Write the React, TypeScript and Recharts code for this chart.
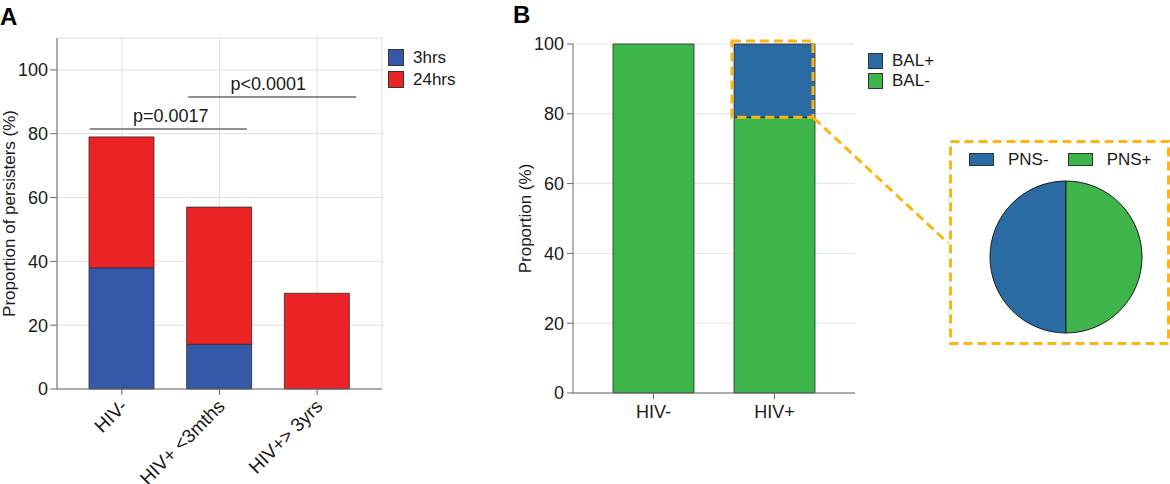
import {
  BarChart,
  Bar,
  XAxis,
  YAxis,
  CartesianGrid,
  ReferenceLine,
  Rectangle,
  PieChart,
  Pie,
  Cell,
} from 'recharts';

// panel A: persisters by HIV status
const groupsA = ['HIV-', 'HIV+ <3mths', 'HIV+> 3yrs'];
const persist3h = [38, 14, 0];
const persist24h = [41, 43, 30];
const ticksA = [0, 20, 40, 60, 80, 100];
const seriesA = [
  { key: 'h3', name: '3hrs', color: '#3559A8' },
  { key: 'h24', name: '24hrs', color: '#EC2325' },
];
// significance brackets: between two groups, ends stretched by a share of the group spacing
const brackets = [
  { from: 'HIV-', to: 'HIV+ <3mths', extLeft: 0.33, extRight: 0.28, y: 81.5, label: 'p=0.0017' },
  { from: 'HIV+ <3mths', to: 'HIV+> 3yrs', extLeft: 0.32, extRight: 0.4, y: 91.5, label: 'p<0.0001' },
];

// panel B: BAL result by HIV status
const groupsB = ['HIV-', 'HIV+'];
const balNeg = [100, 79];
const balPos = [0, 21];
const ticksB = [0, 20, 40, 60, 80, 100];
const zoomGroup = 'HIV+';
const seriesB = [
  { key: 'pos', name: 'BAL+', color: '#2A6BA4' },
  { key: 'neg', name: 'BAL-', color: '#3DB54B' },
];

// inset pie: PNS among BAL+
const pnsLabels = ['PNS-', 'PNS+'];
const pnsValues = [50, 50];
const pnsColors = ['#2A6BA4', '#3DB54B'];

const dataA = groupsA.map((name, i) => ({ name, h3: persist3h[i], h24: persist24h[i] }));
const dataB = groupsB.map((name, i) => ({ name, neg: balNeg[i], pos: balPos[i] }));
const dataPie = pnsLabels.map((name, i) => ({ name, value: pnsValues[i] }));

const AXIS = '#6b6b6b';
const INK = '#1a1a1a';
const ORANGE = '#FCB514';
const FONT = "'Liberation Sans', Arial, sans-serif";

const AngledTick = (props: any) => {
  const { x, y, payload } = props;
  return (
    <g transform={`translate(${x - 3},${y + 1})`}>
      <text x={0} y={0} dy="0.71em" textAnchor="end" transform="rotate(-45)" fontSize={19} fill={INK}>
        {payload.value}
      </text>
    </g>
  );
};

const bracketShape = (extLeft: number, extRight: number) => (p: any) => {
  const span = p.x2 - p.x1;
  return (
    <line
      x1={p.x1 - extLeft * span}
      x2={p.x2 + extRight * span}
      y1={p.y1}
      y2={p.y2}
      stroke={AXIS}
      strokeWidth={1.5}
    />
  );
};

const ZoomedBar = (props: any) => {
  const { x, y, width, height, payload } = props;
  const zoomed = payload && payload.name === zoomGroup && height > 0;
  return (
    <g>
      <Rectangle {...props} />
      {zoomed && (
        <g fill="none" stroke={ORANGE} strokeWidth={3} strokeDasharray="9 5">
          <rect x={x - 2} y={y - 3} width={width} height={height + 3} />
          <line x1={x + width - 1} y1={y + height + 1} x2={448} y2={243} />
        </g>
      )}
    </g>
  );
};

const LegendBox = ({ items, left, top, pitch, w, h }: any) => (
  <div style={{ position: 'absolute', left, top }}>
    {items.map((s: any, i: number) => (
      <div
        key={s.name}
        style={{ position: 'absolute', top: i * pitch, left: 0, display: 'flex', alignItems: 'center', height: h, whiteSpace: 'nowrap' }}
      >
        <div style={{ width: w, height: h, background: s.color, border: '1px solid #333', boxSizing: 'border-box' }} />
        <span style={{ marginLeft: 9, fontSize: 17, lineHeight: `${h}px`, color: INK }}>{s.name}</span>
      </div>
    ))}
  </div>
);

const PanelLetter = ({ text, left, top }: any) => (
  <div style={{ position: 'absolute', left, top, fontSize: 24, fontWeight: 'bold', lineHeight: 1, color: '#000' }}>{text}</div>
);

const App = () => {
  return (
    <div style={{ position: 'absolute', left: 0, top: 0, width: 1170, height: 484, background: '#fff', fontFamily: FONT, overflow: 'hidden' }}>
      <PanelLetter text="A" left={0} top={5} />
      <div style={{ position: 'absolute', left: 0, top: 0 }}>
        <BarChart width={480} height={484} data={dataA} margin={{ top: 38, right: 98, bottom: 0, left: 0 }} barSize={65}>
          <CartesianGrid stroke="#dedede" />
          <XAxis
            dataKey="name"
            height={95}
            padding={{ left: 16, right: 16 }}
            interval={0}
            tick={<AngledTick />}
            tickSize={6}
            tickMargin={2}
            axisLine={{ stroke: AXIS }}
            tickLine={{ stroke: AXIS }}
          />
          <XAxis xAxisId="top" orientation="top" dataKey="name" height={0} tick={false} tickLine={false} axisLine={{ stroke: AXIS }} />
          <YAxis
            width={57}
            domain={[0, 110]}
            ticks={ticksA}
            interval={0}
            tickSize={7}
            tickMargin={2}
            tick={{ fontSize: 18, fill: INK }}
            axisLine={{ stroke: AXIS }}
            tickLine={{ stroke: AXIS }}
            label={{ value: 'Proportion of persisters (%)', angle: -90, position: 'insideLeft', offset: 9, fontSize: 17, fill: INK, style: { textAnchor: 'middle' } }}
          />
          <YAxis yAxisId="right" orientation="right" width={0} domain={[0, 110]} tick={false} tickLine={false} axisLine={{ stroke: AXIS }} />
          {seriesA.map((s) => (
            <Bar key={s.key} dataKey={s.key} name={s.name} stackId="a" fill={s.color} stroke="#2b2b2b" strokeWidth={0.8} isAnimationActive={false} />
          ))}
          {brackets.map((b) => (
            <ReferenceLine
              key={b.label}
              segment={[{ x: b.from, y: b.y }, { x: b.to, y: b.y }]}
              ifOverflow="visible"
              stroke={AXIS}
              shape={bracketShape(b.extLeft, b.extRight)}
              label={{ value: b.label, position: 'top', offset: 7, fill: INK, fontSize: 18 }}
            />
          ))}
        </BarChart>
      </div>
      <LegendBox items={seriesA} left={388} top={49} pitch={22} w={16} h={17} />

      <PanelLetter text="B" left={513} top={3} />
      <div style={{ position: 'absolute', left: 500, top: 0 }}>
        <BarChart width={670} height={484} data={dataB} margin={{ top: 44, right: 315, bottom: 0, left: 0 }} barSize={81}>
          <CartesianGrid stroke="#e3e3e3" vertical={false} />
          <XAxis
            dataKey="name"
            height={91}
            padding={{ left: 20, right: 20 }}
            tickSize={6}
            tickMargin={6}
            tick={{ fontSize: 18, fill: INK }}
            axisLine={{ stroke: AXIS }}
            tickLine={{ stroke: AXIS }}
          />
          <XAxis xAxisId="top" orientation="top" dataKey="name" height={0} tick={false} tickLine={false} axisLine={{ stroke: AXIS }} />
          <YAxis
            width={73}
            domain={[0, 100]}
            ticks={ticksB}
            interval={0}
            tickSize={6}
            tickMargin={3}
            tick={{ fontSize: 18, fill: INK }}
            axisLine={{ stroke: AXIS }}
            tickLine={{ stroke: AXIS }}
            label={{ value: 'Proportion (%)', angle: -90, position: 'insideLeft', offset: 25, fontSize: 17, fill: INK, style: { textAnchor: 'middle' } }}
          />
          <YAxis yAxisId="right" orientation="right" width={0} domain={[0, 100]} tick={false} tickLine={false} axisLine={{ stroke: AXIS }} />
          <Bar dataKey="neg" name="BAL-" stackId="b" fill={seriesB[1].color} stroke="#2b2b2b" strokeWidth={0.8} isAnimationActive={false} />
          <Bar dataKey="pos" name="BAL+" stackId="b" fill={seriesB[0].color} stroke="#2b2b2b" strokeWidth={0.8} shape={<ZoomedBar />} isAnimationActive={false} />
        </BarChart>
      </div>
      <LegendBox items={seriesB} left={868} top={53} pitch={19.5} w={15} h={16} />

      <div style={{ position: 'absolute', left: 949, top: 140, width: 221, height: 206 }}>
        <svg width={221} height={206} style={{ position: 'absolute', left: 0, top: 0 }}>
          <rect x={1.5} y={1.5} width={218} height={202} fill="none" stroke={ORANGE} strokeWidth={3} strokeDasharray="9 5" />
        </svg>
        <div style={{ position: 'absolute', left: 20, top: 13, display: 'flex', alignItems: 'center', height: 13, whiteSpace: 'nowrap' }}>
          {dataPie.map((d, i) => (
            <div key={d.name} style={{ display: 'flex', alignItems: 'center', marginRight: 19 }}>
              <div style={{ width: 25, height: 13, background: pnsColors[i], border: '1px solid #333', boxSizing: 'border-box' }} />
              <span style={{ marginLeft: 14, fontSize: 17, lineHeight: '13px', color: INK }}>{d.name}</span>
            </div>
          ))}
        </div>
        <div style={{ position: 'absolute', left: 0, top: 0 }}>
          <PieChart width={221} height={206} margin={{ top: 0, right: 0, bottom: 0, left: 0 }}>
            <Pie
              data={dataPie}
              dataKey="value"
              nameKey="name"
              cx={117}
              cy={117}
              outerRadius={76}
              startAngle={90}
              endAngle={450}
              stroke={INK}
              strokeWidth={1}
              isAnimationActive={false}
            >
              {dataPie.map((d, i) => (
                <Cell key={d.name} fill={pnsColors[i]} />
              ))}
            </Pie>
          </PieChart>
        </div>
      </div>
    </div>
  );
};

export default App;
